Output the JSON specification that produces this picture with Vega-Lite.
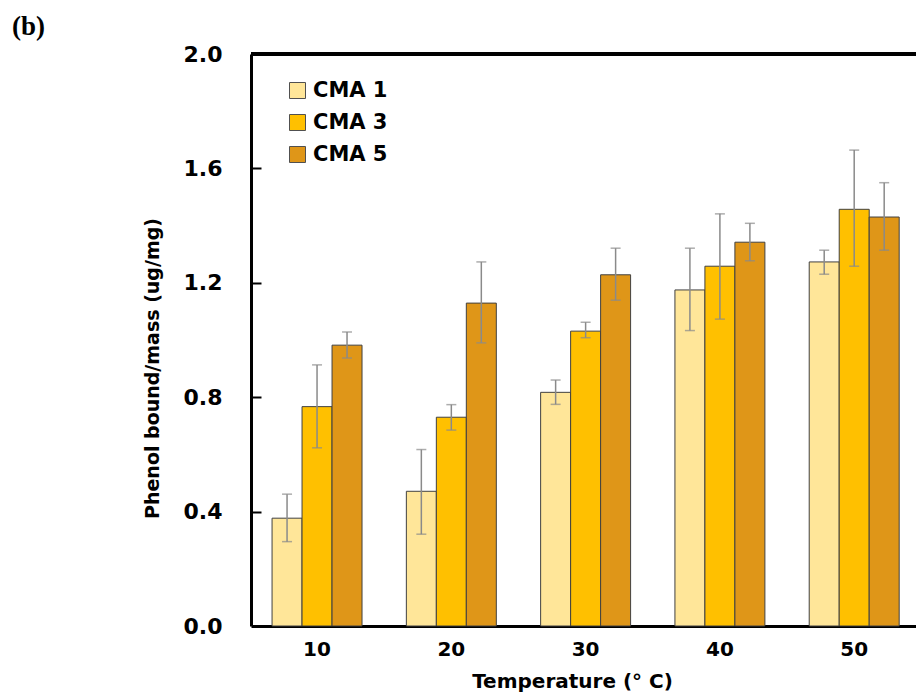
{
  "$schema": "https://vega.github.io/schema/vega-lite/v6.json",
  "autosize": {"type": "none"},
  "padding": {"left": 251, "top": 54, "right": 0, "bottom": 70},
  "width": 665,
  "height": 572,
  "background": "white",
  "title": {"text": "(b)", "anchor": "start", "frame": "group", "font": "Liberation Serif", "fontSize": 27, "fontWeight": "bold", "color": "black", "dx": -239, "dy": 2},
  "config": {
    "view": {"stroke": null},
    "axis": {"grid": false}
  },
  "data": {
    "values": [
      {"temp": "10", "series": "CMA 1", "value": 0.377, "lo": 0.295, "hi": 0.461},
      {"temp": "10", "series": "CMA 3", "value": 0.767, "lo": 0.623, "hi": 0.913},
      {"temp": "10", "series": "CMA 5", "value": 0.982, "lo": 0.937, "hi": 1.028},
      {"temp": "20", "series": "CMA 1", "value": 0.471, "lo": 0.321, "hi": 0.617},
      {"temp": "20", "series": "CMA 3", "value": 0.730, "lo": 0.685, "hi": 0.774},
      {"temp": "20", "series": "CMA 5", "value": 1.129, "lo": 0.990, "hi": 1.273},
      {"temp": "30", "series": "CMA 1", "value": 0.817, "lo": 0.775, "hi": 0.860},
      {"temp": "30", "series": "CMA 3", "value": 1.031, "lo": 1.008, "hi": 1.062},
      {"temp": "30", "series": "CMA 5", "value": 1.228, "lo": 1.139, "hi": 1.321},
      {"temp": "40", "series": "CMA 1", "value": 1.175, "lo": 1.033, "hi": 1.321},
      {"temp": "40", "series": "CMA 3", "value": 1.258, "lo": 1.073, "hi": 1.441},
      {"temp": "40", "series": "CMA 5", "value": 1.342, "lo": 1.277, "hi": 1.408},
      {"temp": "50", "series": "CMA 1", "value": 1.273, "lo": 1.230, "hi": 1.314},
      {"temp": "50", "series": "CMA 3", "value": 1.457, "lo": 1.258, "hi": 1.664},
      {"temp": "50", "series": "CMA 5", "value": 1.430, "lo": 1.314, "hi": 1.550}
    ]
  },
  "resolve": {"axis": {"y": "independent"}},
  "layer": [
    {
      "mark": {"type": "bar", "stroke": "#404040", "strokeWidth": 1},
      "encoding": {
        "x": {
          "field": "temp", "type": "nominal",
          "scale": {"paddingInner": 0.33, "paddingOuter": 0.141, "align": 0.556},
          "axis": {
            "title": "Temperature (°  C)",
            "labelAngle": 0, "ticks": false,
            "domainColor": "black", "domainWidth": 3,
            "labelFont": "DejaVu Sans", "labelFontSize": 20, "labelFontWeight": "bold", "labelColor": "black",
            "labelPadding": 13,
            "titleFont": "DejaVu Sans", "titleFontSize": 20, "titleFontWeight": "bold", "titleColor": "black",
            "titleX": 321, "titleY": 55, "titleBaseline": "middle", "titleAnchor": "middle"
          }
        },
        "xOffset": {"field": "series", "type": "nominal", "scale": {"paddingInner": 0, "paddingOuter": 0}},
        "y": {
          "field": "value", "type": "quantitative",
          "scale": {"domain": [0, 2], "nice": false, "zero": true},
          "axis": {
            "title": "Phenol bound/mass (ug/mg)",
            "values": [0, 0.4, 0.8, 1.2, 1.6, 2.0], "format": ".1f",
            "ticks": false,
            "domainColor": "black", "domainWidth": 3,
            "labelFont": "DejaVu Sans", "labelFontSize": 22, "labelFontWeight": "bold", "labelColor": "black",
            "labelPadding": 29,
            "titleFont": "DejaVu Sans", "titleFontSize": 19, "titleFontWeight": "bold", "titleColor": "black",
            "titleX": -89, "titleY": 314, "titleBaseline": "bottom", "titleAnchor": "middle", "titleAngle": -90
          }
        },
        "fill": {
          "field": "series", "type": "nominal",
          "scale": {"domain": ["CMA 1", "CMA 3", "CMA 5"], "range": ["#FFE699", "#FFC000", "#DF9618"]},
          "legend": {
            "title": null, "orient": "none", "legendX": 36, "legendY": 26,
            "symbolType": "square", "symbolSize": 256, "symbolStrokeColor": "#505050", "symbolStrokeWidth": 1,
            "labelFont": "DejaVu Sans", "labelFontSize": 21, "labelFontWeight": "bold", "labelColor": "black",
            "labelOffset": 5, "rowPadding": 10, "padding": 0, "symbolOpacity": 1
          }
        }
      }
    },
    {
      "mark": {"type": "rule", "color": "#8a8a8a", "strokeWidth": 1.5},
      "encoding": {
        "x": {"field": "temp", "type": "nominal"},
        "xOffset": {"field": "series", "type": "nominal"},
        "y": {"field": "lo", "type": "quantitative", "axis": null},
        "y2": {"field": "hi"}
      }
    },
    {
      "mark": {"type": "tick", "color": "#8a8a8a", "thickness": 1.5, "size": 10, "orient": "horizontal"},
      "encoding": {
        "x": {"field": "temp", "type": "nominal"},
        "xOffset": {"field": "series", "type": "nominal"},
        "y": {"field": "lo", "type": "quantitative", "axis": null}
      }
    },
    {
      "mark": {"type": "tick", "color": "#8a8a8a", "thickness": 1.5, "size": 10, "orient": "horizontal"},
      "encoding": {
        "x": {"field": "temp", "type": "nominal"},
        "xOffset": {"field": "series", "type": "nominal"},
        "y": {
          "field": "hi", "type": "quantitative",
          "axis": {
            "orient": "right", "offset": -664, "title": null, "labels": false, "domain": false,
            "values": [0.4, 0.8, 1.2, 1.6], "ticks": true, "tickSize": 9, "tickWidth": 2, "tickColor": "black", "zindex": 2
          }
        }
      }
    },
    {
      "mark": {"type": "rule", "color": "black", "strokeWidth": 3},
      "encoding": {"y": {"datum": 2, "axis": null}}
    }
  ]
}
